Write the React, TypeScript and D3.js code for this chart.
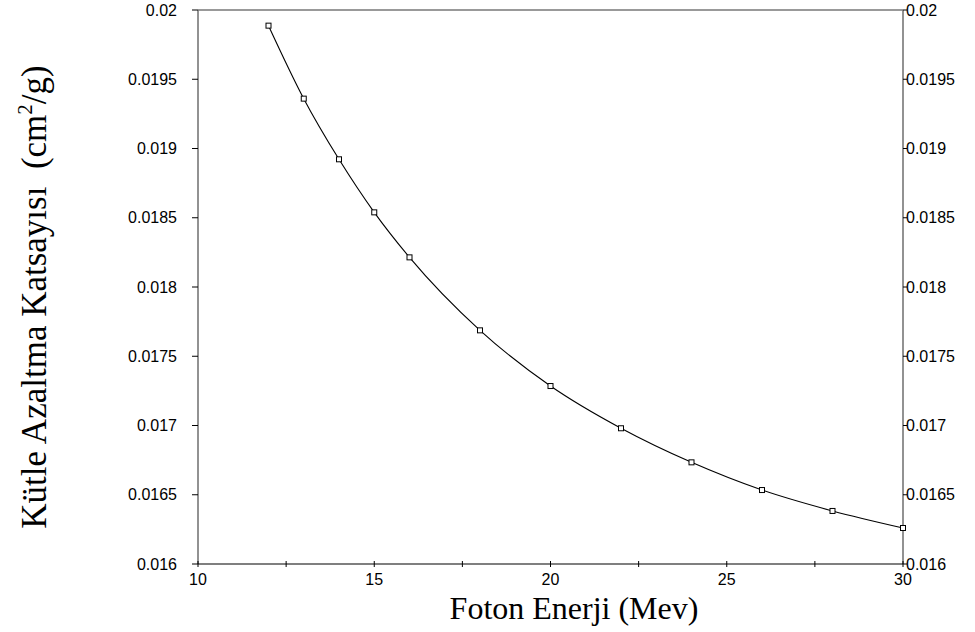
import React from "react";
import * as d3 from "d3";

const energy = [12, 13, 14, 15, 16, 18, 20, 22, 24, 26, 28, 30];
const attenuation = [
  0.019887, 0.01936, 0.018922, 0.018539, 0.018214, 0.017687, 0.017285,
  0.01698, 0.016734, 0.016534, 0.016383, 0.01626,
];
const xTicks = [10, 15, 20, 25, 30];
const xMinorTicks = [12.5, 17.5, 22.5, 27.5];
const yTicks = [0.016, 0.0165, 0.017, 0.0175, 0.018, 0.0185, 0.019, 0.0195, 0.02];

const width = 975;
const height = 632;
const left = 198;
const right = 903;
const top = 10;
const bottom = 564;

const App = () => {
  const x = d3.scaleLinear().domain([10, 30]).range([left, right]);
  const y = d3.scaleLinear().domain([0.016, 0.02]).range([bottom, top]);

  const points = energy.map((e, i) => [e, attenuation[i]] as [number, number]);
  const line = d3
    .line<[number, number]>()
    .x((d) => x(d[0]))
    .y((d) => y(d[1]))
    .curve(d3.curveMonotoneX);

  const fmt = (v: number) => String(+v.toFixed(4));

  return (
    <svg
      width={width}
      height={height}
      style={{ position: "absolute", left: 0, top: 0, background: "#fff" }}
    >
      {/* frame */}
      <line x1={left} x2={right} y1={top} y2={top} stroke="#777" strokeWidth={1.6} />
      <line x1={left} x2={left} y1={top} y2={bottom} stroke="#777" strokeWidth={1.6} />
      <line x1={right} x2={right} y1={top} y2={bottom} stroke="#777" strokeWidth={1.6} />
      <line x1={left} x2={right} y1={bottom} y2={bottom} stroke="#000" strokeWidth={1.2} />

      {/* y ticks, left and right */}
      {yTicks.map((t) => (
        <g key={t} fontFamily="Liberation Sans, Arial" fontSize={16} fill="#000">
          <line x1={left - 6} x2={left} y1={y(t)} y2={y(t)} stroke="#000" />
          <text x={left - 21} y={y(t)} textAnchor="end" dominantBaseline="central">
            {fmt(t)}
          </text>
          <line x1={right} x2={right + 4} y1={y(t)} y2={y(t)} stroke="#000" />
          <text x={right + 3} y={y(t)} textAnchor="start" dominantBaseline="central">
            {fmt(t)}
          </text>
        </g>
      ))}

      {/* x ticks */}
      {xTicks.concat(xMinorTicks).map((t) => (
        <line key={"t" + t} x1={x(t)} x2={x(t)} y1={bottom - 3} y2={bottom + 3} stroke="#000" />
      ))}
      {xTicks.map((t) => (
        <text
          key={t}
          x={x(t)}
          y={bottom + 21}
          textAnchor="middle"
          fontFamily="Liberation Sans, Arial"
          fontSize={16}
        >
          {t}
        </text>
      ))}

      {/* data */}
      <path d={line(points) || ""} fill="none" stroke="#000" strokeWidth={1.1} />
      {points.map((d, i) => (
        <rect
          key={i}
          x={x(d[0]) - 2.5}
          y={y(d[1]) - 2.5}
          width={5}
          height={5}
          fill="#fff"
          stroke="#000"
          strokeWidth={1}
        />
      ))}

      {/* titles */}
      <text
        x={574}
        y={619}
        textAnchor="middle"
        fontFamily="Liberation Serif, Times New Roman"
        fontSize={32}
      >
        Foton Enerji (Mev)
      </text>
      <text
        transform={`translate(46,${297}) rotate(-90)`}
        textAnchor="middle"
        fontFamily="Liberation Serif, Times New Roman"
        fontSize={35}
        style={{ whiteSpace: "pre" }}
      >
        Kütle Azaltma Katsayısı  (cm
        <tspan fontSize={21} dy={-14}>2</tspan>
        <tspan dy={14}>/g)</tspan>
      </text>
    </svg>
  );
};

export default App;
